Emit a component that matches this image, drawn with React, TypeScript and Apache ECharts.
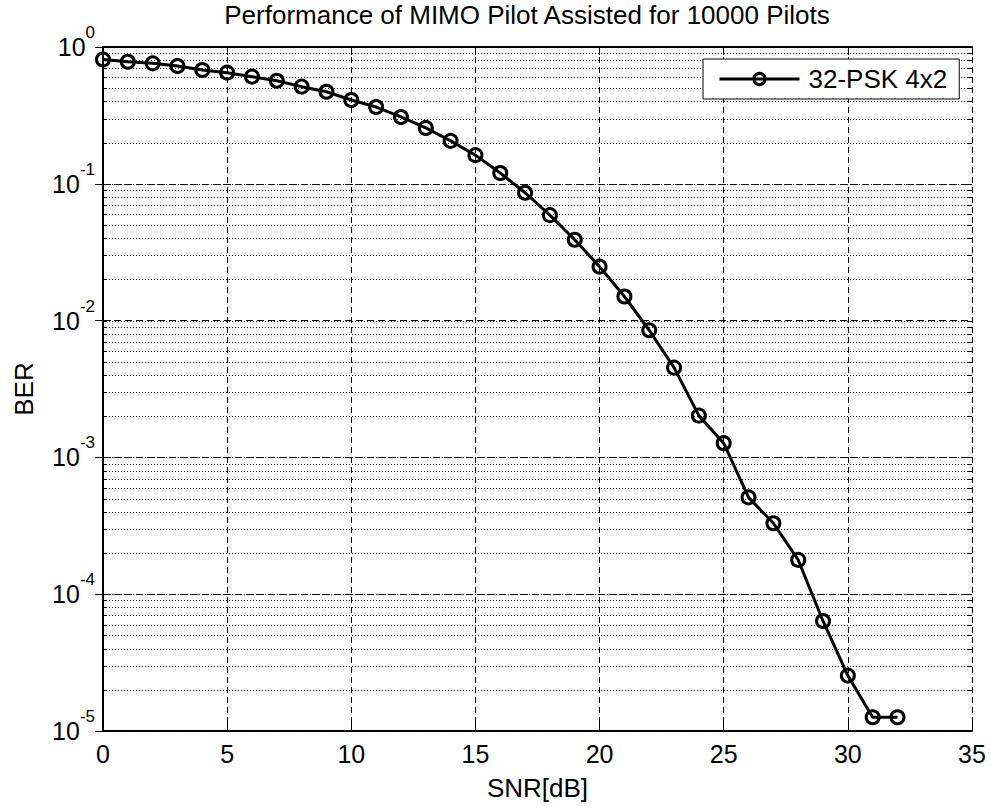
import React, { useEffect, useRef } from "react";
import * as echarts from "echarts";

const snr = [0,1,2,3,4,5,6,7,8,9,10,11,12,13,14,15,16,17,18,19,20,21,22,23,24,25,26,27,28,29,30,31,32];
const ber = [0.81,0.78,0.76,0.726,0.679,0.649,0.607,0.567,0.513,0.471,0.41,0.364,0.308,0.256,0.206,0.162,0.12,0.086,0.059,0.039,0.0248,0.015,0.0085,0.00453,0.00202,0.00127,0.00051,0.00033,0.000178,0.0000637,0.0000254,0.0000126,0.0000126];
const seriesName = "32-PSK 4x2";
const decades = [1e-5, 1e-4, 1e-3, 1e-2, 1e-1];
const multiples = [1, 2, 3, 4, 5, 6, 7, 8, 9];
const xTicks = [0, 5, 10, 15, 20, 25, 30, 35];

const FONT = "Liberation Sans, Arial, Helvetica, sans-serif";

export default function App() {
  const ref = useRef<HTMLDivElement>(null);
  useEffect(() => {
    if (!ref.current) return;
    const chart = echarts.init(ref.current, null, { renderer: "svg" });
    const gridVals: number[][] = [];
    decades.forEach((d) => multiples.forEach((m) => gridVals.push([0, d * m])));
    const xMax = xTicks[xTicks.length - 1];
    chart.setOption({
      animation: false,
      backgroundColor: "#fff",
      title: {
        text: "Performance of MIMO Pilot Assisted for 10000 Pilots",
        left: 527,
        textAlign: "center",
        top: 2,
        padding: 0,
        textStyle: { fontFamily: FONT, fontSize: 26, fontWeight: "normal", color: "#000" },
      },
      legend: {
        data: [seriesName],
        left: 703,
        top: 59,
        orient: "vertical",
        backgroundColor: "#fff",
        borderColor: "#000",
        borderWidth: 1,
        padding: [7, 12, 7, 15],
        itemWidth: 80,
        itemHeight: 14,
        selectedMode: false,
        textStyle: { fontFamily: FONT, fontSize: 26, color: "#000", padding: [0, 0, 0, 4] },
        itemStyle: { color: "transparent", borderColor: "#000", borderWidth: 3 },
        lineStyle: { color: "#000", width: 3 },
      },
      grid: { left: 103, right: 19, top: 47, bottom: 76, show: false },
      xAxis: [
        {
          type: "value",
          min: 0,
          max: xMax,
          interval: 5,
          name: "SNR[dB]",
          nameLocation: "middle",
          nameGap: 44,
          nameTextStyle: { fontFamily: FONT, fontSize: 26, color: "#000" },
          axisLine: { show: true, lineStyle: { color: "#000", width: 2 } },
          axisTick: { show: true, inside: true, length: 8, lineStyle: { color: "#000", width: 1 } },
          axisLabel: { fontFamily: FONT, fontSize: 25, color: "#000", margin: 10 },
          splitLine: { show: true, lineStyle: { color: "#000", width: 1, type: [6, 4] } },
        },
        {
          type: "value",
          position: "top",
          min: 0,
          max: xMax,
          interval: 5,
          axisLine: { show: true, lineStyle: { color: "#000", width: 2 } },
          axisTick: { show: true, inside: true, length: 8, lineStyle: { color: "#000", width: 1 } },
          axisLabel: { show: false },
          splitLine: { show: false },
        },
      ],
      yAxis: [
        {
          type: "log",
          logBase: 10,
          min: 1e-5,
          max: 1,
          name: "BER",
          nameLocation: "middle",
          nameGap: 66,
          nameTextStyle: { fontFamily: FONT, fontSize: 26, color: "#000" },
          axisLine: { show: true, lineStyle: { color: "#000", width: 2 } },
          axisTick: { show: true, inside: true, length: 8, lineStyle: { color: "#000", width: 1 } },
          axisLabel: {
            margin: 8,
            formatter: (v: number) => `{b|10}{e|${Math.round(Math.log10(v))}}`,
            rich: {
              b: { fontFamily: FONT, fontSize: 25, color: "#000", lineHeight: 46 },
              e: { fontFamily: FONT, fontSize: 17, color: "#000", lineHeight: 17, verticalAlign: "top" },
            },
          },
          splitLine: { show: true, lineStyle: { color: "#000", width: 1, type: [7, 4] } },
        },
        {
          type: "log",
          logBase: 10,
          position: "right",
          min: 1e-5,
          max: 1,
          axisLine: { show: true, lineStyle: { color: "#000", width: 2 } },
          axisTick: { show: true, inside: true, length: 8, lineStyle: { color: "#000", width: 1 } },
          axisLabel: { show: false },
          splitLine: { show: false },
        },
      ],
      series: [
        {
          type: "custom",
          silent: true,
          z: 1,
          xAxisIndex: 0,
          yAxisIndex: 0,
          clip: false,
          data: gridVals,
          renderItem: (params: any, api: any) => {
            const v = api.value(1);
            const p0 = api.coord([0, v]);
            const p1 = api.coord([xMax, v]);
            const y = Math.round(p0[1]) + 0.5;
            return {
              type: "group",
              children: [
                {
                  type: "line",
                  shape: { x1: p0[0], y1: y, x2: p1[0], y2: y },
                  style: { stroke: "#111", lineWidth: 1, lineDash: [1, 2] },
                },
                {
                  type: "line",
                  shape: { x1: p0[0], y1: y, x2: p0[0] + 4, y2: y },
                  style: { stroke: "#000", lineWidth: 1 },
                },
                {
                  type: "line",
                  shape: { x1: p1[0] - 4, y1: y, x2: p1[0], y2: y },
                  style: { stroke: "#000", lineWidth: 1 },
                },
              ],
            };
          },
        },
        {
          name: seriesName,
          type: "line",
          z: 5,
          xAxisIndex: 0,
          yAxisIndex: 0,
          data: snr.map((s, i) => [s, ber[i]]),
          symbol: "circle",
          symbolSize: 13,
          showAllSymbol: true,
          itemStyle: { color: "transparent", borderColor: "#000", borderWidth: 3 },
          lineStyle: { color: "#000", width: 3 },
        },
      ],
    });
    return () => chart.dispose();
  }, []);
  return (
    <div
      ref={ref}
      style={{ position: "fixed", left: 0, top: 0, width: 991, height: 807, background: "#fff" }}
    />
  );
}
